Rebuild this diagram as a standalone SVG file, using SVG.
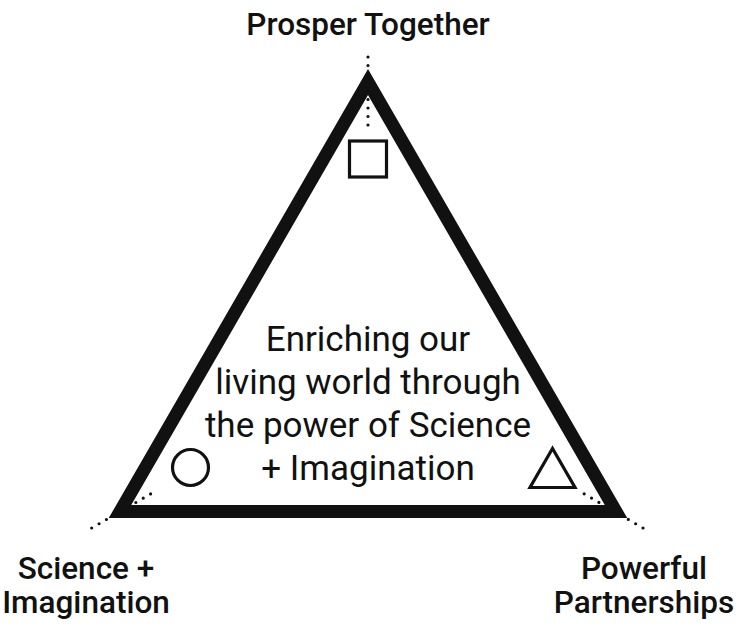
<svg xmlns="http://www.w3.org/2000/svg" width="736" height="630" viewBox="0 0 736 630">
<style>
.lbl{font-family:Roboto,"Liberation Sans",sans-serif;font-weight:500;font-size:31.5px;fill:#111;text-anchor:middle}
.ctr{font-family:Roboto,"Liberation Sans",sans-serif;font-weight:400;font-size:35px;fill:#111;text-anchor:middle}
.dots{stroke:#111;stroke-width:3.2;stroke-linecap:round;stroke-dasharray:0 8.5;fill:none}
.sym{fill:none;stroke:#111;stroke-width:3.2}
</style>
<rect width="736" height="630" fill="#fff"/>
<g id="connectors">
<line class="dots" x1="368" y1="57" x2="368" y2="129"/>
<line class="dots" x1="91.7" y1="528" x2="154.5" y2="491.7"/>
<line class="dots" x1="643" y1="528" x2="580.5" y2="491.7"/>
</g>
<g id="triangle">
<polygon points="368,82 120,511.5 616,511.5" fill="none" stroke="#111" stroke-width="13" stroke-linejoin="miter" stroke-miterlimit="10"/>
</g>
<g id="center-text">
<text class="ctr" x="368" y="351">Enriching our</text>
<text class="ctr" x="368" y="394">living world through</text>
<text class="ctr" x="368" y="437">the power of Science</text>
<text class="ctr" x="368" y="480">+ Imagination</text>
</g>
<g id="node-prosper">
<rect class="sym" x="349.5" y="141" width="37" height="36"/>
<text class="lbl" x="368" y="35">Prosper Together</text>
</g>
<g id="node-science">
<circle class="sym" cx="190.5" cy="467.5" r="18"/>
<text class="lbl" x="86" y="579">Science +</text>
<text class="lbl" x="86" y="613">Imagination</text>
</g>
<g id="node-partnerships">
<polygon class="sym" points="552.5,448.5 530,487.5 575,487.5"/>
<text class="lbl" x="644" y="579">Powerful</text>
<text class="lbl" x="644" y="613">Partnerships</text>
</g>
</svg>
